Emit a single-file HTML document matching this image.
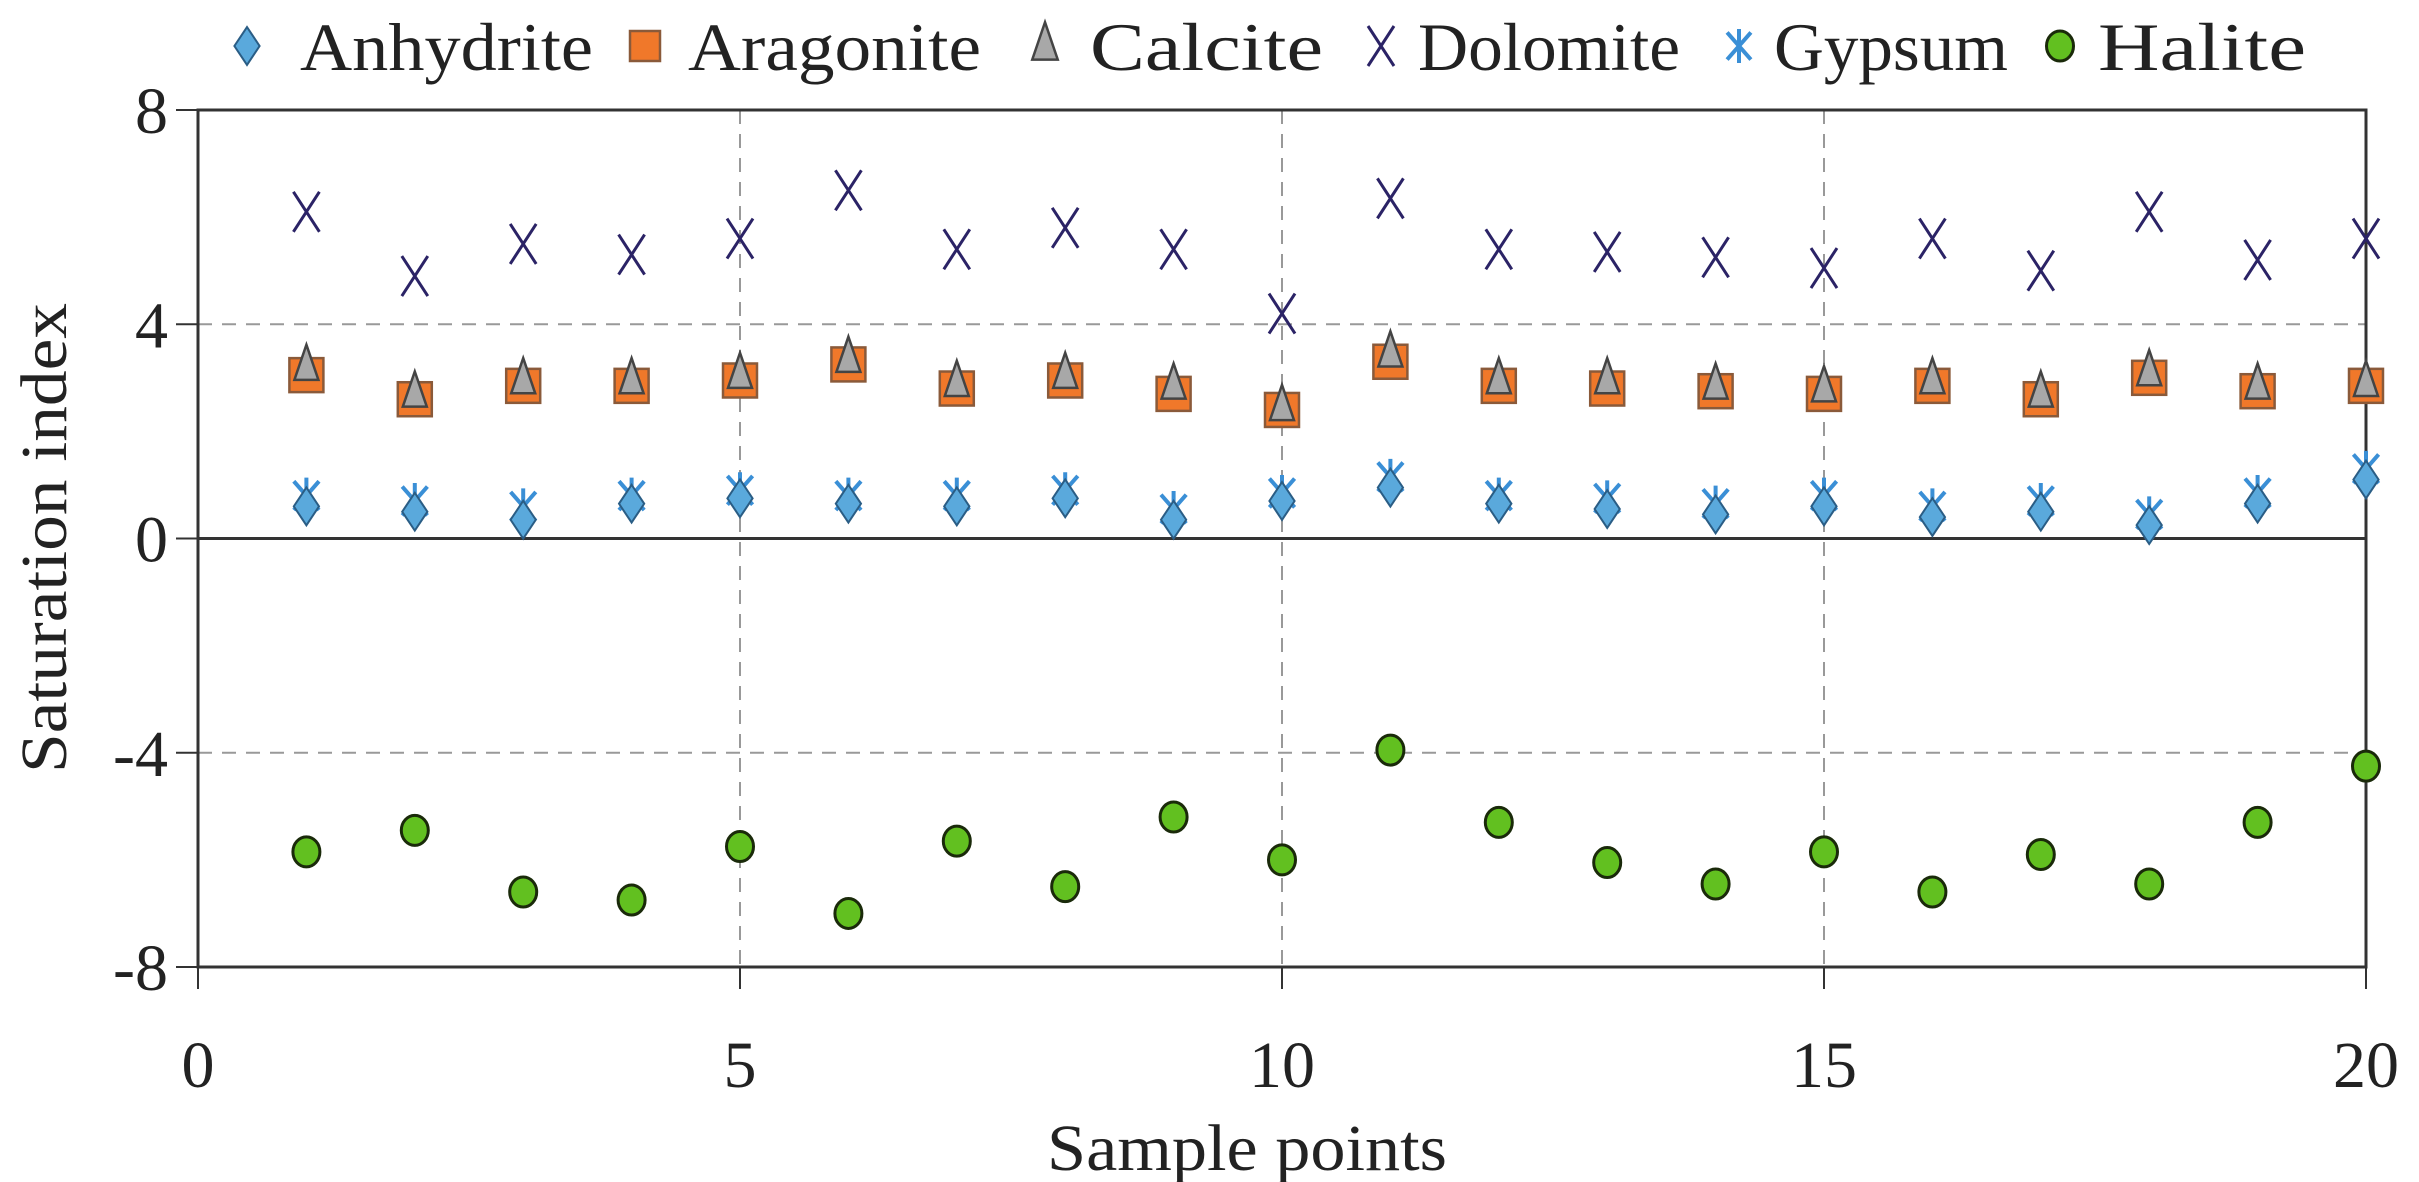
<!DOCTYPE html>
<html><head><meta charset="utf-8"><style>
html,body{margin:0;padding:0;background:#fff;}
svg{display:block;font-family:"Liberation Serif",serif;}
</style></head><body>
<svg id="chart" width="2419" height="1182" viewBox="0 0 2419 1182">
<g id="grid"></g>
<g id="axes"></g>
<g id="marks"></g>
<g id="legend"></g>
<text x="1247" y="1170" font-size="66" text-anchor="middle" textLength="400" lengthAdjust="spacingAndGlyphs" fill="#222">Sample points</text>
<text transform="translate(66,538) rotate(-90)" font-size="66" text-anchor="middle" textLength="470" lengthAdjust="spacingAndGlyphs" fill="#222">Saturation index</text>
</svg>
<script>
const samples=[1,2,3,4,5,6,7,8,9,10,11,12,13,14,15,16,17,18,19,20];
const anhydrite=[0.6,0.5,0.35,0.65,0.75,0.65,0.6,0.75,0.35,0.7,0.95,0.65,0.55,0.45,0.6,0.4,0.5,0.25,0.65,1.1];
const aragonite=[3.05,2.6,2.85,2.85,2.95,3.25,2.8,2.95,2.7,2.4,3.3,2.85,2.8,2.75,2.7,2.85,2.6,3.0,2.75,2.85];
const calcite=[3.2,2.7,2.95,2.95,3.05,3.35,2.9,3.05,2.85,2.45,3.45,2.95,2.95,2.85,2.8,2.95,2.7,3.1,2.85,2.9];
const dolomite=[6.1,4.9,5.5,5.3,5.6,6.5,5.4,5.8,5.4,4.2,6.35,5.4,5.35,5.25,5.05,5.6,5.0,6.1,5.2,5.6];
const gypsum=[0.8,0.7,0.6,0.8,0.9,0.8,0.8,0.9,0.55,0.85,1.15,0.8,0.75,0.65,0.8,0.6,0.7,0.45,0.85,1.3];
const halite=[-5.85,-5.45,-6.6,-6.75,-5.75,-7.0,-5.65,-6.5,-5.2,-6.0,-3.95,-5.3,-6.05,-6.45,-5.85,-6.6,-5.9,-6.45,-5.3,-4.25];
const xTicks=[0,5,10,15,20];
const yTicks=[-8,-4,0,4,8];

const X0=198,X1=2366,Y0=967,Y1=110;
function sx(v){return X0+(v-0)/(20-0)*(X1-X0);}
function sy(v){return Y0-(v+8)/16*(Y0-Y1);}
const NS="http://www.w3.org/2000/svg";
function mk(parent,tag,attrs){const e=document.createElementNS(NS,tag);for(const k in attrs)e.setAttribute(k,attrs[k]);parent.appendChild(e);return e;}
const grid=document.getElementById('grid'),axes=document.getElementById('axes'),marks=document.getElementById('marks'),legend=document.getElementById('legend');

xTicks.forEach(t=>{
  if(t>0&&t<20){const l=mk(grid,'line',{x1:sx(t),x2:sx(t),y1:Y1,y2:Y0,stroke:'#999','stroke-width':2,'stroke-dasharray':'14 10'});
  
  }
  const tk=mk(axes,'line',{x1:sx(t),x2:sx(t),y1:Y0,y2:Y0+22,stroke:'#333','stroke-width':2});
  
  
  const tx=mk(axes,'text',{x:sx(t),y:1087,'font-size':66,'text-anchor':'middle',fill:'#222'});
  tx.textContent=t;
  
  
});
yTicks.forEach(t=>{
  if(t===4||t===-4){const l=mk(grid,'line',{x1:X0,x2:X1,y1:sy(t),y2:sy(t),stroke:'#999','stroke-width':2,'stroke-dasharray':'14 10'});
  
  }
  const tk=mk(axes,'line',{x1:X0-22,x2:X0,y1:sy(t),y2:sy(t),stroke:'#333','stroke-width':2});
  
  
  const tx=mk(axes,'text',{x:168,y:sy(t)+23,'font-size':66,'text-anchor':'end',fill:'#222'});
  tx.textContent=t;
  
  
});
const frame=mk(axes,'rect',{x:X0,y:Y1,width:X1-X0,height:Y0-Y1,fill:'none',stroke:'#333','stroke-width':3});


const zl=mk(axes,'line',{x1:X0,x2:X1,y1:sy(0),y2:sy(0),stroke:'#333','stroke-width':3});



function diamond(g,x,y,s){return mk(g,'polygon',{points:`${x},${y-s*1.35} ${x+s*0.9},${y} ${x},${y+s*1.35} ${x-s*0.9},${y}`,fill:'#5aa9dc',stroke:'#2a5d85','stroke-width':2});}
function square(g,x,y,s){return mk(g,'rect',{x:x-s,y:y-s,width:2*s,height:2*s,fill:'#f0782a',stroke:'#8a5a3a','stroke-width':2.5});}
function triangle(g,x,y,s){return mk(g,'polygon',{points:`${x},${y-s*1.4} ${x+s*0.75},${y+s*0.8} ${x-s*0.75},${y+s*0.8}`,fill:'#a8a8a8',stroke:'#444','stroke-width':2.5});}
function cross(g,x,y,s){const p=mk(g,'path',{d:`M${x-s*0.65},${y-s} L${x+s*0.65},${y+s} M${x+s*0.65},${y-s} L${x-s*0.65},${y+s}`,stroke:'#2b2366','stroke-width':3,fill:'none'});return p;}
function star(g,x,y,s){return mk(g,'path',{d:`M${x},${y-s} L${x},${y+s} M${x-s*0.7},${y-s*0.8} L${x+s*0.7},${y+s*0.8} M${x+s*0.7},${y-s*0.8} L${x-s*0.7},${y+s*0.8}`,stroke:'#3a8fd6','stroke-width':4,fill:'none'});}
function circle(g,x,y,s){return mk(g,'ellipse',{cx:x,cy:y,rx:s*0.9,ry:s,fill:'#62c020',stroke:'#1a2a0a','stroke-width':3});}

const series=[
 ['aragonite',aragonite,square,17],
 ['calcite',calcite,triangle,16],
 ['dolomite',dolomite,cross,20],
 ['gypsum',gypsum,star,18],
 ['anhydrite',anhydrite,diamond,14],
 ['halite',halite,circle,15]
];
series.forEach(([name,vals,fn,s])=>{
  const g=mk(marks,'g',{});
  
  
  vals.forEach((v,i)=>{
    const m=fn(g,sx(samples[i]),sy(v),s);
    
    
  });
});

const legNames=['Anhydrite','Aragonite','Calcite','Dolomite','Gypsum','Halite'];
const legFns=[diamond,square,triangle,cross,star,circle];
const legSizes=[14,15,17,20,17,15];
const legMx=[247,645,1045,1381,1739,2060];
const legTx=[300,688,1090,1418,1774,2098];
const legW=[293,293,233,262,234,208];
legNames.forEach((n,i)=>{
  const g=mk(legend,'g',{});
  
  
  const m=legFns[i](g,legMx[i],46,legSizes[i]);
  
  
  const t=mk(g,'text',{x:legTx[i],y:70,'font-size':68,textLength:legW[i],lengthAdjust:'spacingAndGlyphs',fill:'#222'});
  t.textContent=n;
  
  
});
</script>
</body></html>
